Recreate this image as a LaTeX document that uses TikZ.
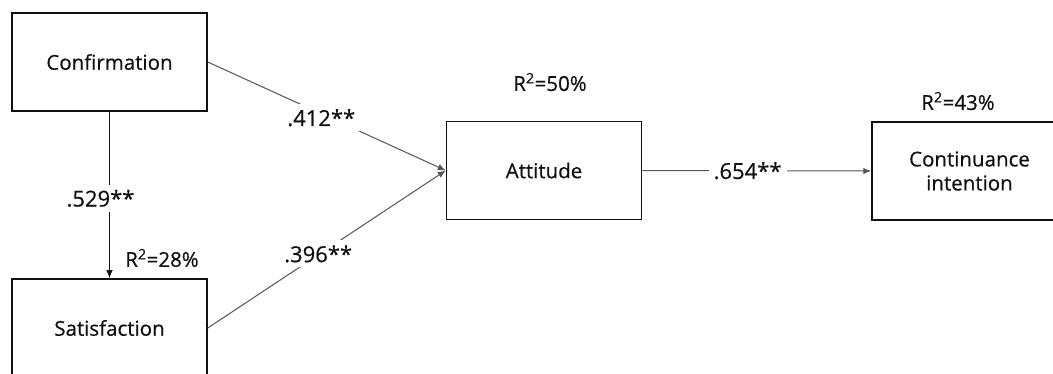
\documentclass[tikz,border=0pt]{standalone}
\usepackage{fontspec}
\setmainfont{Open Sans}[FakeBold=0.5]
\usetikzlibrary{arrows.meta}
\definecolor{ink}{HTML}{111111}
\definecolor{linegray}{HTML}{555555}
\tikzset{
  box/.style={draw=ink, line width=1.5pt, minimum width=195pt, minimum height=98pt,
    inner sep=0pt, align=center, text=ink, font=\fontsize{20.5}{24}\selectfont},
  path/.style={draw=linegray, line width=1pt},
  arr/.style={path, -{Latex[length=8pt,width=6.5pt]}},
  coef/.style={fill=white, inner sep=5pt, text=ink, font=\fontsize{22}{26}\selectfont},
  rsq/.style={text=ink, inner sep=0pt, font=\fontsize{20.5}{24}\selectfont},
}
\begin{document}
\begin{tikzpicture}[x=1pt,y=-1pt]
  \useasboundingbox (0,0) rectangle (1053,374);
  \fill[white] (0,0) rectangle (1053,374);
  \clip (0,0) rectangle (1053,374);

  % constructs
  \node[box] (conf) at (109.5,62) {Confirmation};
  \node[box] (sat)  at (109.5,328) {Satisfaction};
  \node[box] (att)  at (544,170.5) {Attitude};
  \node[box] (cont) at (969.5,171) {Continuance\\intention};

  % explained variance
  \node[rsq] (r2sat)  at (162,258) {R\textsuperscript{2}=28\%};
  \node[rsq] (r2att)  at (550,82)  {R\textsuperscript{2}=50\%};
  \node[rsq] (r2cont) at (958,101) {R\textsuperscript{2}=43\%};

  % paths with coefficients
  \draw[arr, draw=ink] (conf.south) -- node[coef, pos=0.52, xshift=-9pt] (p1) {.529**} (sat.north);
  \draw[arr] (conf.east) -- node[coef, pos=0.477, yshift=-4pt] (p2) {.412**} (att.west);
  \draw[arr] (sat.east) -- node[coef, pos=0.464, yshift=1pt] (p3) {.396**} (att.west);
  \draw[arr] (att.east) -- node[coef, pos=0.46] (p4) {.654**} (cont.west);
\end{tikzpicture}
\end{document}
